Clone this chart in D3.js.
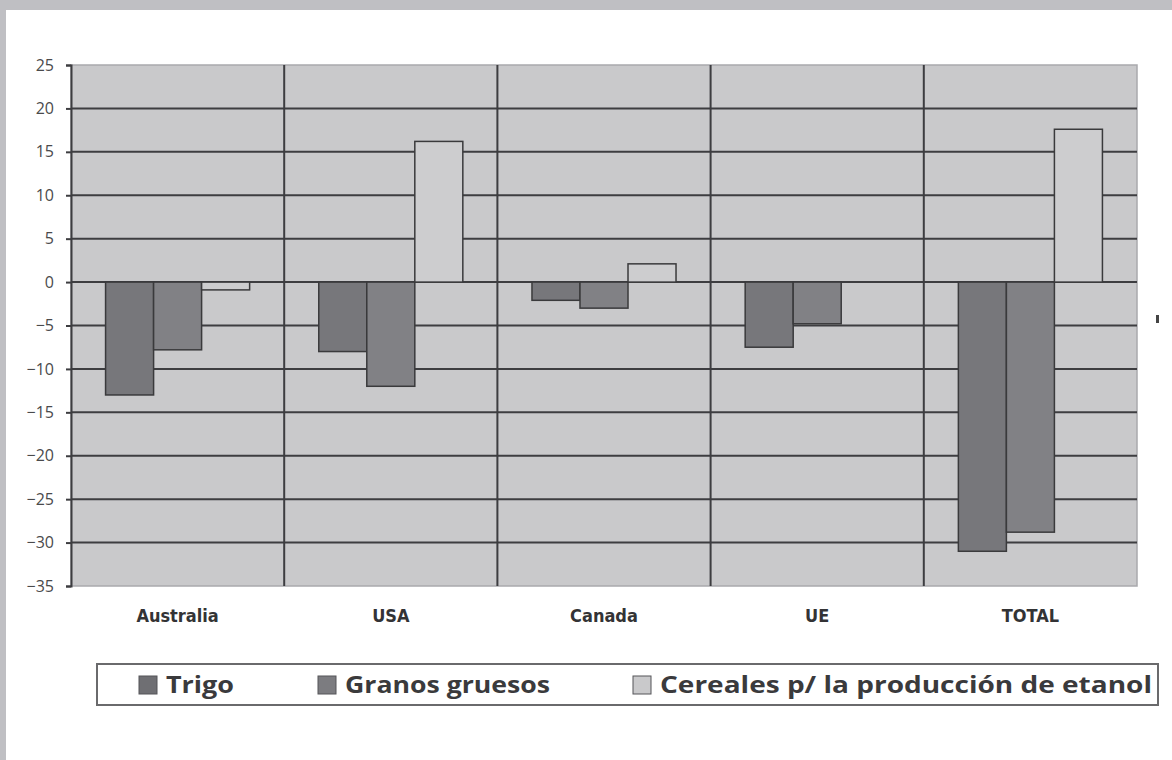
<!DOCTYPE html>
<html>
<head>
<meta charset="utf-8">
<script src="https://cdn.jsdelivr.net/npm/d3@7"></script>
<style>
  html, body { margin: 0; padding: 0; background: #ffffff; }
  svg { display: block; }
</style>
</head>
<body>
<svg id="chart" width="1172" height="760"></svg>
<script>
// Regions and series
const categories = ["Australia", "USA", "Canada", "UE", "TOTAL"];
const seriesNames = ["Trigo", "Granos gruesos", "Cereales p/ la producción de etanol"];
const trigo    = [-13, -8, -2.1, -7.5, -31];
const granos   = [-7.8, -12, -3, -4.8, -28.8];
const cereales = [-0.9, 16.2, 2.1, 0, 17.6];
const yTicks = [25, 20, 15, 10, 5, 0, -5, -10, -15, -20, -25, -30, -35];

const seriesValues = [trigo, granos, cereales];
const fills   = ["#77777b", "#818185", "#cdcdcf"];
const swatch  = ["#6f6f73", "#7c7c80", "#c9c9cb"];

const svg = d3.select("#chart");
const W = 1172, H = 760;

// page frame
svg.append("rect").attr("x", 0).attr("y", 0).attr("width", W).attr("height", H).attr("fill", "#bfbfc3");
svg.append("rect").attr("x", 6).attr("y", 10).attr("width", W - 6).attr("height", H - 10).attr("fill", "#ffffff");

const plot = { left: 71, right: 1137, top: 65, bottom: 586 };

const y = d3.scaleLinear().domain([-35, 25]).range([plot.bottom, plot.top]);
const x0 = d3.scaleBand().domain(categories).range([plot.left, plot.right]).paddingInner(0).paddingOuter(0);
const x1 = d3.scaleBand().domain(d3.range(seriesNames.length)).range([0, x0.bandwidth()]).paddingInner(0).paddingOuter(0.72);

// plot background
svg.append("rect")
  .attr("x", plot.left).attr("y", plot.top)
  .attr("width", plot.right - plot.left).attr("height", plot.bottom - plot.top)
  .attr("fill", "#c9c9cb")
  .attr("stroke", "#a9a9ad").attr("stroke-width", 1.5);

// horizontal gridlines
svg.append("g").selectAll("line")
  .data(yTicks.filter(t => t !== 25 && t !== -35))
  .join("line")
  .attr("x1", plot.left).attr("x2", plot.right)
  .attr("y1", d => y(d)).attr("y2", d => y(d))
  .attr("stroke", "#3d3d40").attr("stroke-width", 2);

// category dividers
svg.append("g").selectAll("line")
  .data(categories.slice(1))
  .join("line")
  .attr("x1", d => x0(d)).attr("x2", d => x0(d))
  .attr("y1", plot.top).attr("y2", plot.bottom)
  .attr("stroke", "#3d3d40").attr("stroke-width", 2);

// bars
const groups = svg.append("g").selectAll("g")
  .data(categories)
  .join("g")
  .attr("transform", d => `translate(${x0(d)},0)`);

groups.selectAll("rect")
  .data((c, ci) => seriesValues.map((vals, si) => ({ si, v: vals[ci] })).filter(d => d.v !== 0))
  .join("rect")
  .attr("x", d => x1(d.si))
  .attr("width", x1.bandwidth())
  .attr("y", d => Math.min(y(d.v), y(0)))
  .attr("height", d => Math.abs(y(d.v) - y(0)))
  .attr("fill", d => fills[d.si])
  .attr("stroke", "#3a3a3c").attr("stroke-width", 1.5);

// y axis
const yAxis = svg.append("g")
  .attr("transform", `translate(${plot.left},0)`)
  .call(d3.axisLeft(y).tickValues(yTicks).tickSize(5).tickPadding(12).tickFormat(d3.format("d")));
yAxis.select(".domain").attr("stroke", "#3d3d40").attr("stroke-width", 2);
yAxis.selectAll(".tick line").attr("stroke", "#3d3d40").attr("stroke-width", 2);
yAxis.selectAll(".tick text")
  .attr("fill", "#4a4a4c")
  .style("font-family", "'Open Sans', 'Liberation Sans', sans-serif")
  .style("font-size", "16px");

// category labels
const xAxis = svg.append("g")
  .attr("transform", `translate(0,${plot.bottom})`)
  .call(d3.axisBottom(x0).tickSize(0).tickPadding(23));
xAxis.select(".domain").remove();
xAxis.selectAll(".tick text")
  .attr("fill", "#333335")
  .style("font-family", "'Liberation Sans Narrow', 'DejaVu Sans Condensed', 'Liberation Sans', sans-serif")
  .style("font-weight", "bold")
  .style("font-size", "18px");

// stray mark at the right edge
svg.append("rect").attr("x", 1156).attr("y", 315).attr("width", 3).attr("height", 8).attr("fill", "#444");

// legend
const legend = svg.append("g");
legend.append("rect")
  .attr("x", 97).attr("y", 664).attr("width", 1061).attr("height", 41)
  .attr("fill", "#ffffff").attr("stroke", "#6a6a6c").attr("stroke-width", 2);

const legendX = d3.scaleOrdinal().domain(d3.range(3)).range([139, 318, 633]);
const legendW = d3.scaleOrdinal().domain(d3.range(3)).range([68, 205, 492]);

const items = legend.selectAll("g.item")
  .data(seriesNames.map((n, i) => ({ n, i })))
  .join("g").attr("class", "item")
  .attr("transform", d => `translate(${legendX(d.i)},676)`);

items.append("rect")
  .attr("x", 0).attr("y", 0).attr("width", 18).attr("height", 18)
  .attr("fill", d => swatch[d.i])
  .attr("stroke", "#555558").attr("stroke-width", 1);

items.append("text")
  .attr("x", 27).attr("y", 17)
  .attr("fill", "#3a3a3c")
  .attr("textLength", d => legendW(d.i))
  .attr("lengthAdjust", "spacingAndGlyphs")
  .style("font-family", "'Open Sans', 'Liberation Sans', sans-serif")
  .style("font-weight", "bold")
  .style("font-size", "23px")
  .text(d => d.n);
</script>
</body>
</html>
